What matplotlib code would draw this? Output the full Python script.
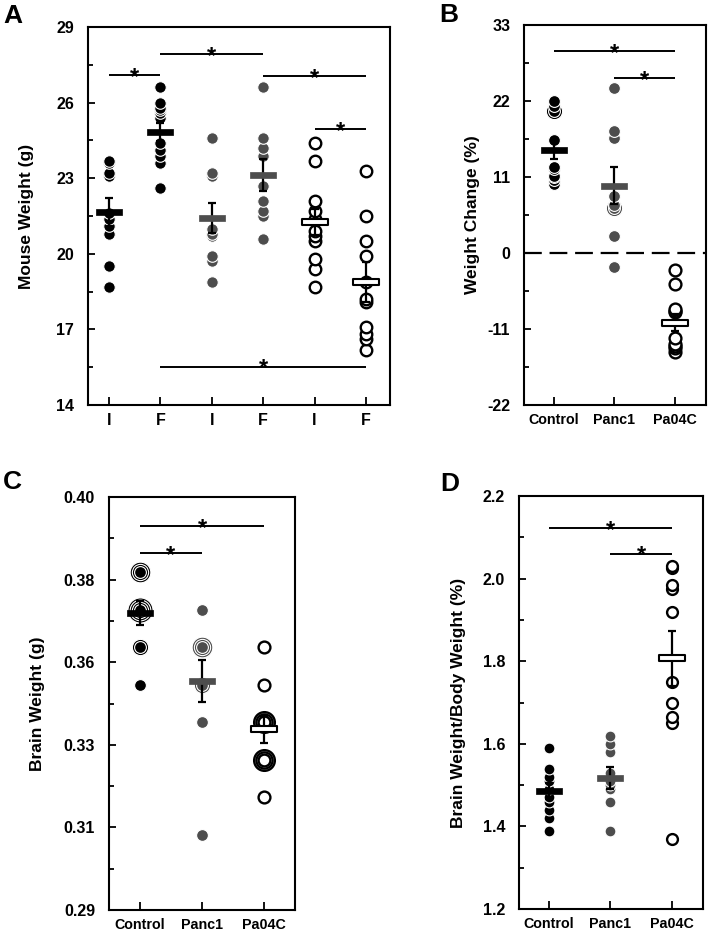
import numpy as np
import matplotlib
matplotlib.use("Agg")
import matplotlib.pyplot as plt
from matplotlib.path import Path

plt.rcParams['font.family'] = ['Liberation Sans', 'DejaVu Sans']
plt.rcParams['font.weight'] = 'bold'

# ---------------- data ----------------
BLACK = '#000000'
GRAY = '#4d4d4d'

# Panel A: mouse weight, initial (I) / final (F)
a_labels = ['I', 'F', 'I', 'F', 'I', 'F']
a_ctrl_i = [23.7, 23.6, 23.2, 23.1, 21.6, 21.4, 21.1, 20.8, 19.5, 18.7]
a_ctrl_f = [26.6, 26.0, 25.8, 25.7, 25.6, 25.4, 24.4, 24.1, 23.9, 23.6, 22.6]
a_panc_i = [24.6, 23.2, 23.1, 21.0, 20.8, 20.7, 19.9, 19.7, 18.9]
a_panc_f = [26.6, 24.6, 24.2, 23.9, 22.7, 22.1, 21.7, 21.5, 20.6]
a_pa04_i = [24.4, 23.7, 22.1, 21.7, 21.4, 20.9, 20.7, 20.5, 19.8, 19.4, 18.7]
a_pa04_f = [23.3, 21.5, 20.5, 19.9, 18.9, 18.2, 18.1, 17.1, 16.8, 16.6, 16.2]
a_means = [21.65, 24.83, 21.42, 23.13, 21.26, 18.88]
a_sems = [0.55, 0.36, 0.60, 0.63, 0.50, 0.79]
a_sig = [(0, 1, 27.08), (1, 3, 27.92), (3, 5, 27.04), (4, 5, 24.94), (1, 5, 15.52)]

groups3 = ['Control', 'Panc1', 'Pa04C']

# Panel B: weight change (%)
b_ctrl = [22.0, 21.3, 20.5, 20.5, 16.4, 12.4, 12.1, 11.2, 11.0, 10.5, 10.0]
b_panc = [23.9, 17.7, 16.6, 8.3, 7.0, 6.5, 6.5, 2.4, -2.0]
b_pa04 = [-2.5, -4.5, -8.1, -8.4, -8.6, -12.3, -13.1, -13.5, -13.8, -14.3]
b_means = [14.85, 9.74, -10.1]
b_sems = [1.2, 2.7, 1.2]
b_sig = [(0, 2, 29.18), (1, 2, 25.3)]

# Panel C: brain weight (g)
c_ctrl = [0.38, 0.38, 0.38, 0.37, 0.37, 0.37, 0.37, 0.36, 0.36, 0.35]
c_panc = [0.37, 0.36, 0.36, 0.36, 0.35, 0.35, 0.34, 0.31]
c_pa04 = [0.36, 0.35, 0.34, 0.34, 0.34, 0.33, 0.33, 0.33, 0.32]
c_means = [0.3691, 0.3510, 0.3381]
c_sems = [0.0033, 0.0056, 0.0037]
c_sig = [(0, 2, 0.3922), (0, 1, 0.3850)]

# Panel D: brain weight / body weight (%)
d_ctrl = [1.59, 1.54, 1.52, 1.51, 1.49, 1.47, 1.46, 1.44, 1.42, 1.39]
d_panc = [1.62, 1.60, 1.58, 1.53, 1.51, 1.50, 1.49, 1.46, 1.39]
d_pa04 = [2.03, 2.025, 1.985, 1.975, 1.92, 1.75, 1.70, 1.665, 1.65, 1.37]
d_means = [1.486, 1.517, 1.807]
d_sems = [0.020, 0.026, 0.066]
d_sig = [(0, 2, 2.122), (1, 2, 2.06)]

# ---------------- drawing helpers ----------------
W, H = 709, 932
fig = plt.figure(figsize=(W / 100, H / 100), dpi=100)


def px_axes(l, t, r, b):
    return fig.add_axes([l / W, 1 - b / H, (r - l) / W, (b - t) / H])


bar_marker = Path([(-1, -0.22), (1, -0.22), (1, 0.22), (-1, 0.22), (-1, -0.22)],
                  [Path.MOVETO, Path.LINETO, Path.LINETO, Path.LINETO, Path.CLOSEPOLY])


def draw_group(ax, x, vals, kind, mean, sem, ms):
    vals = np.asarray(vals, dtype=float)
    uniq, counts = np.unique(np.round(vals, 6), return_counts=True)
    for v, c in zip(uniq, counts):
        for k in range(c - 1, -1, -1):
            size = ms + k * 3.2
            if kind == 'open':
                ax.plot([x], [v], 'o', ms=size, mfc='white', mec='black', mew=1.7, zorder=2)
            else:
                col = BLACK if kind == 'black' else GRAY
                ax.plot([x], [v], 'o', ms=size, mfc=col, mec='white', mew=0.8, zorder=2)
    ax.errorbar([x], [mean], yerr=[sem], fmt='none', ecolor='black', elinewidth=1.6,
                capsize=3, capthick=1.6, zorder=3)
    if kind == 'open':
        ax.plot([x], [mean], marker=bar_marker, ms=19, mfc='white', mec='black', mew=1.5,
                ls='none', zorder=4)
    else:
        col = BLACK if kind == 'black' else GRAY
        ax.plot([x], [mean], marker=bar_marker, ms=19, mfc=col, mec=col, mew=0.5,
                ls='none', zorder=4)


def sig_bar(ax, x0, x1, y):
    ax.plot([x0, x1], [y, y], color='black', lw=1.4, solid_capstyle='butt', zorder=5)
    ax.annotate('*', xy=((x0 + x1) / 2, y), xytext=(0, -6), textcoords='offset points',
                ha='center', va='baseline', fontsize=17, fontweight='bold', zorder=6)


def style_axes(ax, yticks, ylabels, minor, ylim, xlim, xt, xtl, xfs, ylabel, label_x):
    ax.set_xlim(*xlim)
    ax.set_ylim(*ylim)
    ax.set_yticks(yticks)
    ax.set_yticklabels(ylabels)
    ax.set_yticks(minor, minor=True)
    ax.set_xticks(xt)
    ax.set_xticklabels(xtl)
    for s in ax.spines.values():
        s.set_linewidth(1.5)
    ax.tick_params(axis='y', which='major', direction='in', length=5, width=1.3,
                   labelsize=11.5, pad=10, right=False)
    ax.tick_params(axis='y', which='minor', direction='in', length=3.5, width=1.3, right=False)
    ax.tick_params(axis='x', which='major', direction='in', length=6, width=1.3,
                   labelsize=xfs, pad=6, top=False)
    for lab in ax.get_xticklabels() + ax.get_yticklabels():
        lab.set_fontweight('bold')
    ax.set_ylabel(ylabel, fontsize=12.5, fontweight='bold')
    ax.yaxis.set_label_coords(label_x, 0.5)


# ---------------- Panel A ----------------
axA = px_axes(88, 27, 390, 405)
a_data = [a_ctrl_i, a_ctrl_f, a_panc_i, a_panc_f, a_pa04_i, a_pa04_f]
a_kinds = ['black', 'black', 'gray', 'gray', 'open', 'open']
for i, (vals, kind) in enumerate(zip(a_data, a_kinds)):
    draw_group(axA, i, vals, kind, a_means[i], a_sems[i], 8.3)
for x0, x1, y in a_sig:
    sig_bar(axA, x0, x1, y)
style_axes(axA, np.arange(14, 30, 3), [str(v) for v in range(14, 30, 3)],
           np.arange(15.5, 29, 3), (14, 29), (-0.41, 5.47), range(6), a_labels, 11.5,
           'Mouse Weight (g)', -0.178)

# ---------------- Panel B ----------------
axB = px_axes(524, 25, 706, 405)
b_data = [b_ctrl, b_panc, b_pa04]
kinds3 = ['black', 'gray', 'open']
axB.axhline(0, color='black', lw=1.6, ls=(0, (8, 3.5)), zorder=1)
for i, vals in enumerate(b_data):
    draw_group(axB, i, vals, kinds3[i], b_means[i], b_sems[i], 8.5)
for x0, x1, y in b_sig:
    sig_bar(axB, x0, x1, y)
b_ticks = np.arange(-22, 34, 11)
style_axes(axB, b_ticks, [str(v) for v in b_ticks], np.arange(-16.5, 33, 11), (-22, 33),
           (-0.5, 2.52), range(3), groups3, 10.3, 'Weight Change (%)', -0.242)

# ---------------- Panel C ----------------
axC = px_axes(109, 497, 295, 910)
c_data = [c_ctrl, c_panc, c_pa04]
for i, vals in enumerate(c_data):
    draw_group(axC, i, vals, kinds3[i], c_means[i], c_sems[i], 8.5)
for x0, x1, y in c_sig:
    sig_bar(axC, x0, x1, y)
c_ticks = 0.29 + 0.022 * np.arange(6)
style_axes(axC, c_ticks, ['%.2f' % v for v in c_ticks], c_ticks[:-1] + 0.011, (0.29, 0.40),
           (-0.5, 2.5), range(3), groups3, 10.3, 'Brain Weight (g)', -0.344)

# ---------------- Panel D ----------------
axD = px_axes(519, 496, 703, 909)
d_data = [d_ctrl, d_panc, d_pa04]
for i, vals in enumerate(d_data):
    draw_group(axD, i, vals, kinds3[i], d_means[i], d_sems[i], 7.8)
for x0, x1, y in d_sig:
    sig_bar(axD, x0, x1, y)
d_ticks = np.round(np.arange(1.2, 2.21, 0.2), 1)
style_axes(axD, d_ticks, ['%.1f' % v for v in d_ticks], d_ticks[:-1] + 0.1, (1.2, 2.2),
           (-0.48, 2.5), range(3), groups3, 10.3, 'Brain Weight/Body Weight (%)', -0.288)

# ---------------- panel letters ----------------
for letter, x, y in [('A', 3, 23), ('B', 439, 22), ('C', 3, 489), ('D', 440, 491)]:
    fig.text(x / W, 1 - y / H, letter, fontsize=19, fontweight='bold', ha='left', va='baseline')

fig.savefig('out.png', dpi=100)
